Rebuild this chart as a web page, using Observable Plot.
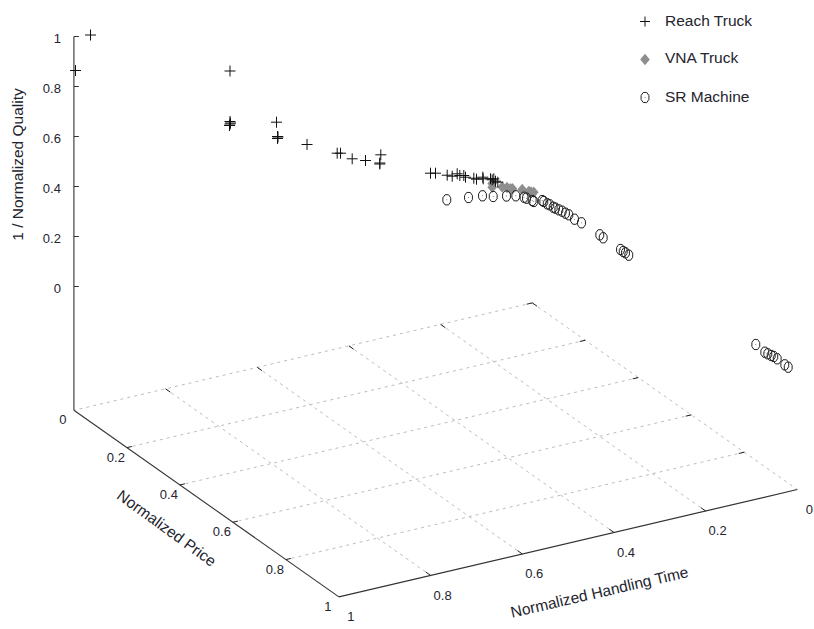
<!DOCTYPE html>
<html>
<head>
<meta charset="utf-8">
<script src="https://cdn.jsdelivr.net/npm/d3@7"></script>
<script src="https://cdn.jsdelivr.net/npm/@observablehq/plot@0.6"></script>
<style>html,body{margin:0;padding:0;background:#fff}svg{display:block}</style>
</head>
<body>
<div id="chart"></div>
<script>
// Points (view-plane coordinates of the 3D projection)
const reachTruck = [[90,34.5],[75,70],[229.5,70.5],[229.5,121],[230,122.5],[229.5,123.5],[229,125],[276,121.7],[277,136],[277.5,136.5],[277,138],[306.5,144],[336.7,152.7],[340,152.7],[351.7,158.3],[365,160],[380.3,154.3],[379.3,162.5],[379.3,163.5],[430,172.7],[435,172.7],[446.7,174.7],[451.7,175.7],[456.7,173.3],[459.3,175],[463.3,175],[465,176.7],[473.3,177.7],[476,178.7],[482.3,176.7],[482.7,178.3],[490,178.3],[491.7,179.3],[493.3,178.3],[495,180.7],[497.3,181.7]];
const vnaTruck = [[491.7,183],[491.7,186.7],[501.7,186.5],[506.5,187],[510,188.3],[512,188.3],[521.7,189],[528.3,191],[530.5,191.5],[533.3,191.7]];
const srMachine = [[446.3,199.3],[468,197],[482,195.3],[492.7,196],[506,195.5],[515.3,195.3],[523.5,196.7],[526,197.7],[531.7,200],[533.3,201],[541.7,200],[543.3,201],[546.7,203.3],[549.3,204.3],[552.7,206.7],[555,207.7],[558.3,209.3],[561.7,210.7],[565,212.7],[568.3,214.3],[574,218.7],[581,222.3],[599.3,234.3],[602.7,237.3],[620,249],[622.7,251],[625,252.3],[628.3,254.7],[755.3,344],[764.3,351.7],[767.3,353.3],[770.7,355],[773.3,356],[776.7,358.3],[784.3,364.3],[787.7,366.7]];

const seriesNames = ["Reach Truck","VNA Truck","SR Machine"];
const gridTicks = [0,0.2,0.4,0.6,0.8,1];
const priceLabels = ["0","0.2","0.4","0.6","0.8","1"];
const timeLabels = ["0","0.2","0.4","0.6","0.8","1"];
const qualityTicks = [0,0.2,0.4,0.6,0.8,1];
const qualityLabels = ["0","0.2","0.4","0.6","0.8","1"];

// Orthographic projection of the floor and of the vertical axis
const floorAt = (p, t) => [531.8 + 265*p - 458.4*t, 302.4 + 186.6*p + 107.4*t];
const qualityY = q => 286 - 250*q;
const backX = floorAt(0,1)[0];

const plus = {draw(c,s){const r=Math.sqrt(s/Math.PI);c.moveTo(-r,0);c.lineTo(r,0);c.moveTo(0,-r);c.lineTo(0,r);}};
const diamond = {draw(c,s){const r=Math.sqrt(s/Math.PI);c.moveTo(0,-r*1.2);c.lineTo(r,0);c.lineTo(0,r*1.2);c.lineTo(-r,0);c.closePath();}};
const ring = {draw(c,s){const r=Math.sqrt(s/Math.PI);const w=r*0.85,h=r*1.1;
  c.moveTo(-w*0.45,-h);c.lineTo(w*0.45,-h);c.lineTo(w,-h*0.4);c.lineTo(w,h*0.4);c.lineTo(w*0.45,h);c.lineTo(-w*0.45,h);c.lineTo(-w,h*0.4);c.lineTo(-w,-h*0.4);c.closePath();}};

const seg = (a,b) => ({x1:a[0],y1:a[1],x2:b[0],y2:b[1]});
const inner = gridTicks.slice(1,-1);
const gridSegs = [
  ...gridTicks.slice(0,-1).map(p => seg(floorAt(p,0),floorAt(p,1))),
  ...gridTicks.slice(0,-1).map(t => seg(floorAt(0,t),floorAt(1,t)))
];
const tickLen = 0.012;
const tickSegs = [
  ...inner.flatMap(p => [seg(floorAt(p,0),floorAt(p,tickLen)),seg(floorAt(p,1),floorAt(p,1-tickLen*0.9))]),
  ...inner.flatMap(t => [seg(floorAt(0,t),floorAt(tickLen*1.5,t)),seg(floorAt(1,t),floorAt(1-tickLen*1.5,t))]),
  seg(floorAt(0,0),floorAt(0,tickLen)),seg(floorAt(0,0),floorAt(tickLen*1.5,0))
];
const axisFont = {fontFamily:"Liberation Sans, Arial, sans-serif"};
const lbl = {...axisFont,fontSize:13,fill:"#24242e"};
const ttl = {...axisFont,fontSize:15.5,fill:"#24242e"};
const xs = d => d[0], ys = d => d[1];
const legendY = [21,59,97];

const chart = Plot.plot({
  width:814,height:629,margin:0,
  x:{domain:[0,814],range:[0,814],axis:null},
  y:{domain:[0,629],range:[0,629],axis:null},
  style:{background:"#fff"},
  marks:[
    Plot.link(gridSegs,{x1:"x1",y1:"y1",x2:"x2",y2:"y2",stroke:"#bdbdbd",strokeWidth:1,strokeDasharray:"3,4"}),
    Plot.link(tickSegs,{x1:"x1",y1:"y1",x2:"x2",y2:"y2",stroke:"#222",strokeWidth:1}),
    Plot.link([seg(floorAt(0,1),floorAt(1,1))],{x1:"x1",y1:"y1",x2:"x2",y2:"y2",stroke:"#333",strokeWidth:1.1}),
    Plot.link([seg(floorAt(1,1),floorAt(1,0))],{x1:"x1",y1:"y1",x2:"x2",y2:"y2",stroke:"#333",strokeWidth:1.2}),
    Plot.link([seg([backX,qualityY(1)],floorAt(0,1))],{x1:"x1",y1:"y1",x2:"x2",y2:"y2",stroke:"#444",strokeWidth:1.2}),
    Plot.link(qualityTicks,{x1:()=>backX,x2:()=>backX+5,y1:qualityY,y2:qualityY,stroke:"#333",strokeWidth:1}),
    Plot.text(qualityTicks,{x:()=>backX,y:qualityY,text:(d,i)=>qualityLabels[i],textAnchor:"end",dx:-13,dy:2,...lbl}),
    Plot.text(gridTicks,{x:d=>floorAt(d,1)[0],y:d=>floorAt(d,1)[1],text:(d,i)=>priceLabels[i],dx:-11,dy:10,...lbl}),
    Plot.text(gridTicks,{x:d=>floorAt(1,d)[0],y:d=>floorAt(1,d)[1],text:(d,i)=>timeLabels[i],dx:12,dy:20,...lbl}),
    Plot.text(["1 / Normalized Quality"],{x:()=>18,y:()=>164,text:d=>d,rotate:-90,...ttl}),
    Plot.text(["Normalized Price"],{x:()=>166,y:()=>528,text:d=>d,rotate:36,...ttl}),
    Plot.text(["Normalized Handling Time"],{x:()=>599,y:()=>592,text:d=>d,rotate:-13,...ttl}),
    Plot.dot(vnaTruck,{x:xs,y:ys,symbol:diamond,r:4.8,fill:"#8e8e8e",stroke:"none"}),
    Plot.dot(srMachine,{x:xs,y:ys,symbol:ring,r:4.6,fill:"none",stroke:"#222",strokeWidth:1}),
    Plot.dot(srMachine,{x:xs,y:ys,r:0.5,fill:"#666",stroke:"none"}),
    Plot.dot(reachTruck,{x:xs,y:ys,symbol:plus,r:5.5,stroke:"#111",strokeWidth:1}),
    Plot.dot([0],{x:()=>644.5,y:()=>legendY[0],symbol:plus,r:5,stroke:"#111",strokeWidth:1}),
    Plot.dot([0],{x:()=>644.5,y:()=>legendY[1],symbol:diamond,r:4.8,fill:"#8e8e8e",stroke:"none"}),
    Plot.dot([0],{x:()=>644.5,y:()=>legendY[2],symbol:ring,r:4.6,fill:"none",stroke:"#222",strokeWidth:1}),
    Plot.dot([0],{x:()=>644.5,y:()=>legendY[2],r:0.5,fill:"#666",stroke:"none"}),
    Plot.text(seriesNames,{x:()=>664.5,y:(d,i)=>[21,58,97][i],text:d=>d,textAnchor:"start",...ttl})
  ]
});
document.getElementById("chart").appendChild(chart);
</script>
</body>
</html>
